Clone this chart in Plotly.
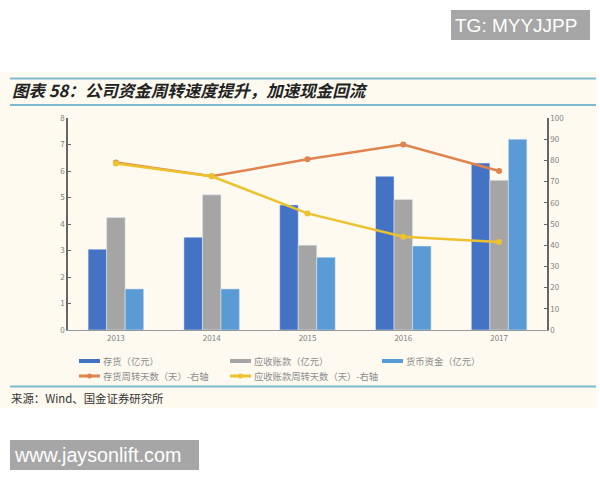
import plotly.graph_objects as go

years = ["2013", "2014", "2015", "2016", "2017"]
inventory = [3.05, 3.5, 4.72, 5.8, 6.3]
receivable = [4.25, 5.1, 3.2, 4.92, 5.65]
cash = [1.55, 1.55, 2.75, 3.17, 7.2]
inv_days = [79, 72.5, 80.5, 87.5, 75]
rec_days = [78.5, 72.5, 55, 44, 41.5]
names = ["存货（亿元）", "应收账款（亿元）", "货币资金（亿元）", "存货周转天数（天）-右轴", "应收账款周转天数（天）-右轴"]

W, H = 600, 480
L, R, T, B = 68, 53, 118, 150
def px(x): return (x - L) / (W - L - R)
def py(y): return (H - B - y) / (H - T - B)

CJK = "Noto Sans CJK SC"
BLUE, GRAY, LIGHT, ORANGE, YELLOW = "#4472C4", "#A5A5A5", "#5B9BD5", "#E0834E", "#EDC22E"
fig = go.Figure()
fig.add_bar(x=years, y=inventory, name=names[0], marker_color=BLUE, showlegend=False)
fig.add_bar(x=years, y=receivable, name=names[1], marker_color=GRAY, showlegend=False)
fig.add_bar(x=years, y=cash, name=names[2], marker_color=LIGHT, showlegend=False)
fig.add_scatter(x=years, y=inv_days, name=names[3], yaxis="y2", mode="lines+markers", showlegend=False,
                line=dict(color=ORANGE, width=2.5), marker=dict(size=6, color=ORANGE))
fig.add_scatter(x=years, y=rec_days, name=names[4], yaxis="y2", mode="lines+markers", showlegend=False,
                line=dict(color=YELLOW, width=2.5), marker=dict(size=6, color=YELLOW))

shapes = [
    dict(type="rect", xref="paper", yref="paper", x0=px(0), x1=px(597), y0=py(72), y1=py(408),
         fillcolor="#FEFAF0", line_width=0, layer="below"),
    dict(type="rect", xref="paper", yref="paper", x0=px(451), x1=px(590), y0=py(10), y1=py(40),
         fillcolor="#A6A6A6", line_width=0, layer="below"),
    dict(type="rect", xref="paper", yref="paper", x0=px(10), x1=px(199), y0=py(440), y1=py(470),
         fillcolor="#A6A6A6", line_width=0, layer="below"),
]
for yy in (78.5, 105, 386.5):
    shapes.append(dict(type="line", xref="paper", yref="paper", x0=px(10), x1=px(596), y0=py(yy), y1=py(yy),
                       line=dict(color="#7FB9CF", width=2)))

def note(x, y, text, size, color, family=CJK):
    return dict(xref="paper", yref="paper", x=px(x), y=py(y), text=text, showarrow=False, xanchor="left",
                yanchor="middle", font=dict(size=size, color=color, family=family))

annotations = [
    note(10, 90, "<b><i>图表 58：公司资金周转速度提升，加速现金回流</i></b>", 16.5, "#222222"),
    note(9, 398, "来源：Wind、国金证券研究所", 11.4, "#333333"),
    note(453, 25, "TG: MYYJJPP", 19, "#FFFFFF", "Liberation Sans"),
    note(12, 454.5, "www.jaysonlift.com", 19.7, "#FFFFFF", "Liberation Sans"),
]

legend_items = [(79, 361, BLUE, False), (230, 361, GRAY, False), (382, 361, LIGHT, False),
                (79, 376, ORANGE, True), (230, 376, YELLOW, True)]
for name, (x0, y0, col, dot) in zip(names, legend_items):
    shapes.append(dict(type="line", xref="paper", yref="paper", x0=px(x0), x1=px(x0 + 21), y0=py(y0), y1=py(y0),
                       line=dict(color=col, width=3 if dot else 4)))
    if dot:
        shapes.append(dict(type="circle", xref="paper", yref="paper", x0=px(x0 + 8), x1=px(x0 + 13),
                           y0=py(y0 + 2.5), y1=py(y0 - 2.5), fillcolor=col, line_width=0))
    annotations.append(note(x0 + 22, y0, name, 9.3, "#8C8C8C"))

fig.update_layout(
    width=W, height=H, margin=dict(l=L, r=R, t=T, b=B, autoexpand=False),
    paper_bgcolor="#FFFFFF", plot_bgcolor="rgba(0,0,0,0)",
    barmode="group", bargap=0.42, bargroupgap=0, showlegend=False,
    font=dict(family=CJK, size=8, color="#808080"),
    shapes=shapes, annotations=annotations,
    xaxis=dict(showgrid=False, ticks="", showline=True, linecolor="#999999", linewidth=1,
               tickfont=dict(size=8, color="#808080")),
    yaxis=dict(range=[0, 8], dtick=1, showgrid=False, zeroline=False, showline=True, linecolor="#666666",
               linewidth=1.5, ticks="inside", ticklen=3, tickcolor="#666666",
               tickfont=dict(size=8, color="#808080")),
    yaxis2=dict(range=[0, 100], dtick=10, overlaying="y", side="right", showgrid=False, zeroline=False,
                showline=True, linecolor="#666666", linewidth=1.5, ticks="inside", ticklen=3,
                tickcolor="#666666", tickfont=dict(size=8, color="#808080")),
)
fig.write_html("out.html", config={"displayModeBar": False}, post_script="document.body.style.margin='0';")
